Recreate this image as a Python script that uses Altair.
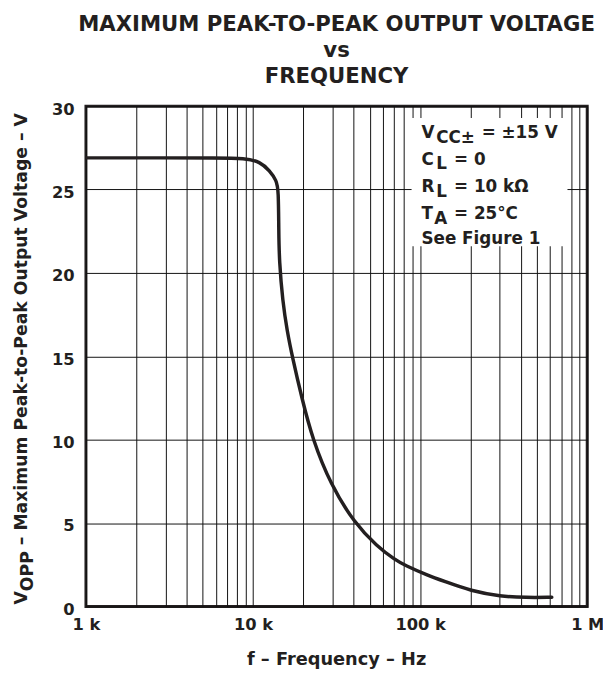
import altair as alt
import pandas as pd

# ---- data ----
FREQ_HZ = [1000, 3000, 6000, 9000, 11000, 12600, 13800, 14200, 14250, 14360,
           15040, 16010, 17160, 19580, 22750, 29160, 40430, 55270, 70600,
           80900, 110600, 140000, 201200, 302600, 430900, 613800]
VOPP_V = [26.9, 26.9, 26.9, 26.88, 26.67, 26.13, 25.54, 25.0, 22.5, 20.7,
          18.3, 16.5, 15.0, 12.5, 10.0, 7.3, 5.0, 3.6, 2.8,
          2.47, 1.87, 1.5, 0.93, 0.6, 0.53, 0.55]

X_DECADES = [1000, 10000, 100000, 1000000]
X_DECADE_LABELS = ["1 k", "10 k", "100 k", "1 M"]
X_GRID = [m * d for d in X_DECADES[:-1] for m in range(1, 10)] + [X_DECADES[-1]]
Y_TICKS = [0, 5, 10, 15, 20, 25, 30]

TITLE_LINES = ["MAXIMUM PEAK-TO-PEAK OUTPUT VOLTAGE", "vs", "FREQUENCY"]
X_TITLE = "f – Frequency – Hz"

FONT = "DejaVu Sans"
INK = "#231f20"
W, H = 508, 507

df = pd.DataFrame({"f": FREQ_HZ, "v": VOPP_V})

label_expr = " : ".join(
    f"datum.value == {v} ? '{t}'" for v, t in zip(X_DECADES, X_DECADE_LABELS)
) + " : ''"

one = alt.Data(values=[{}])


def txt(s, x, y, size, align="left", angle=0):
    mk = dict(text=s, font=FONT, fontSize=size, fontWeight="bold", color=INK,
              align=align, baseline="alphabetic")
    if angle:
        mk["angle"] = angle
    return alt.Chart(one).mark_text(**mk).encode(x=alt.value(x), y=alt.value(y))


axis_common = dict(title="", grid=True, ticks=False, domain=False,
                   labelFont=FONT, labelFontSize=16.5, labelFontWeight="bold",
                   labelColor=INK, gridColor="#111111", gridWidth=1, gridOpacity=1)

curve = alt.Chart(df).mark_line(
    color=INK, strokeWidth=3.5, interpolate="basis", strokeCap="round", clip=True
).encode(
    x=alt.X("f:Q", scale=alt.Scale(type="log", domain=[1000, 1000000], nice=False),
            axis=alt.Axis(values=X_GRID, labelExpr=label_expr,
                          labelOverlap=False, labelFlush=False, labelPadding=10,
                          **axis_common)),
    y=alt.Y("v:Q", scale=alt.Scale(domain=[0, 30], nice=False),
            axis=alt.Axis(values=Y_TICKS, labelPadding=12, labelOffset=3,
                          **axis_common)),
)

# white background box behind the condition notes
box = alt.Chart(one).mark_rect(color="white").encode(
    x=alt.value(330), x2=alt.value(488), y=alt.value(12), y2=alt.value(142)
)

notes = [
    txt("V", 340, 32, 17), txt("CC±", 355, 37, 17), txt("= ±15 V", 401, 32, 17),
    txt("C", 340, 60, 17), txt("L", 355, 64, 17), txt("= 0", 373, 60, 17),
    txt("R", 340, 87, 17), txt("L", 355, 92, 17), txt("= 10 kΩ", 373, 87, 17),
    txt("T", 340, 114, 17), txt("A", 353, 119, 17), txt("= 25°C", 373, 114, 17),
    txt("See Figure 1", 340, 140, 17),
]

titles = [
    txt(TITLE_LINES[0], W / 2, -76, 21.5, align="center"),
    txt(TITLE_LINES[1], W / 2, -50, 21.5, align="center"),
    txt(TITLE_LINES[2], W / 2, -23, 21.5, align="center"),
    txt(X_TITLE, W / 2, 566, 18, align="center"),
    txt("V", -60, 505, 17.5, angle=270),
    txt("OPP", -54, 491.5, 17.5, angle=270),
    txt("– Maximum Peak-to-Peak Output Voltage – V", -60, 445, 17.5, angle=270),
]

chart = alt.layer(curve, box, *notes, *titles).properties(
    width=W, height=H,
    autosize=alt.AutoSizeParams(type="none"),
    padding={"left": 79, "top": 95, "right": 16, "bottom": 64},
).configure_view(stroke=INK, strokeWidth=3).configure_axis(
    labelFont=FONT, labelFontWeight="bold"
)

chart.save("out.html", embed_options={"renderer": "svg", "actions": False})
